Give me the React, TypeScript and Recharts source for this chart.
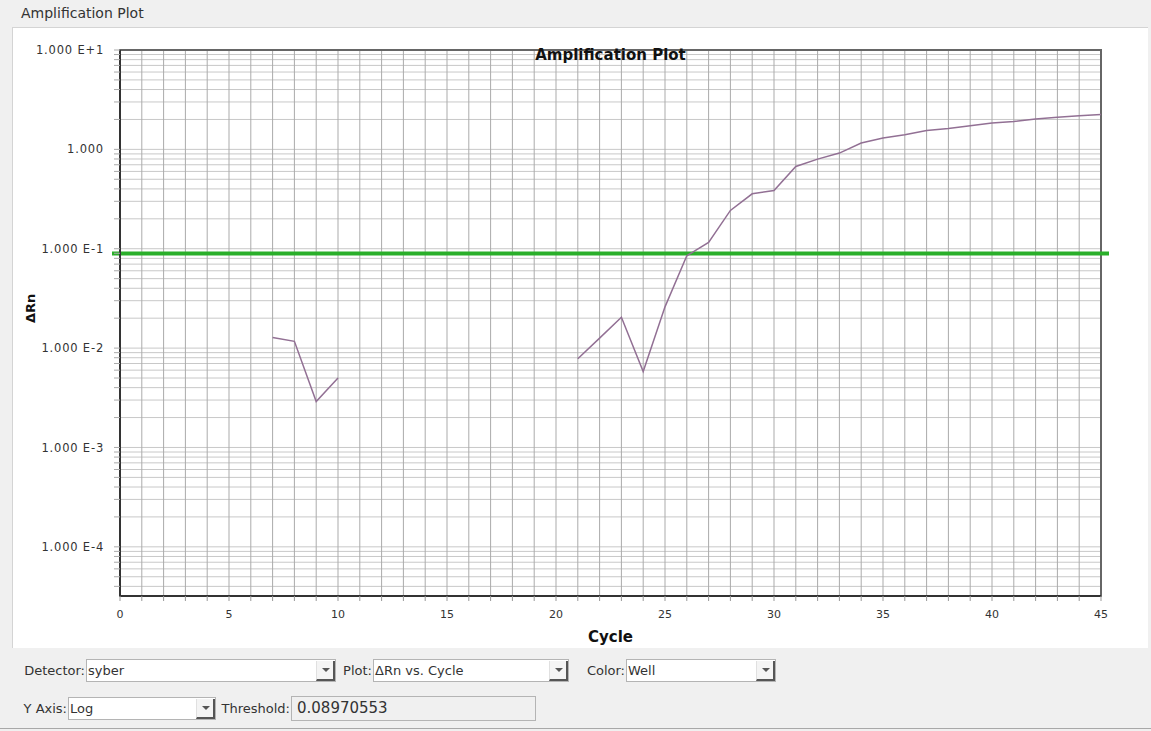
import React from "react";
import {
    LineChart,
    Line,
    XAxis,
    YAxis,
    CartesianGrid,
    ReferenceLine,
    ReferenceArea,
} from "recharts";

// cycle number and ΔRn (null = no point drawn)
const cycles = [
    0, 1, 2, 3, 4, 5, 6, 7, 8, 9, 10, 11, 12, 13, 14, 15, 16, 17, 18, 19, 20, 21, 22,
    23, 24, 25, 26, 27, 28, 29, 30, 31, 32, 33, 34, 35, 36, 37, 38, 39, 40, 41, 42, 43, 44, 45,
];
const deltaRn: (number | null)[] = [
    null, null, null, null, null, null, null,
    0.0128, 0.0117, 0.0029, 0.005,
    null, null, null, null, null, null, null, null, null, null,
    0.0078, 0.0126, 0.0204, 0.0058, 0.026, 0.085, 0.116, 0.243, 0.357, 0.385,
    0.673, 0.798, 0.918, 1.16, 1.3, 1.4, 1.55, 1.62, 1.73, 1.84, 1.91, 2.02, 2.1, 2.18, 2.24,
];
const threshold = 0.08970553;

const xTickLabels = [0, 5, 10, 15, 20, 25, 30, 35, 40, 45];
const yTickValues = [10, 1, 0.1, 0.01, 0.001, 0.0001];
const yTickLabels = ["1.000 E+1", "1.000", "1.000 E-1", "1.000 E-2", "1.000 E-3", "1.000 E-4"];
const yMin = 0.000032;
const yMax = 10;

const minorSteps = [1, 2, 3, 4, 5, 6, 7, 8, 9];
const decades = [0.00001, 0.0001, 0.001, 0.01, 0.1, 1];

const chartData = cycles.map((cycle, i) => ({ cycle, deltaRn: deltaRn[i] }));

// gridlines: every cycle, and 1..9 of every decade
const xGridTicks = cycles;
const yGridTicks = decades
    .flatMap((d) => minorSteps.map((s) => s * d))
    .concat([yMax])
    .filter((v) => v >= yMin && v <= yMax);

const fmtY = (v: number) => {
    const i = yTickValues.findIndex((t) => Math.abs(t - v) / t < 1e-6);
    return i >= 0 ? yTickLabels[i] : "";
};
const fmtX = (v: number) => (xTickLabels.includes(v) ? String(v) : "");

const font = "'DejaVu Sans', Verdana, sans-serif";

function Combo({ left, top, width, text }: { left: number; top: number; width: number; text: string }) {
    return (
        <div
            style={{
                position: "absolute",
                left,
                top,
                width,
                height: 23,
                boxSizing: "border-box",
                background: "#fff",
                border: "1px solid #b4b4b4",
                fontSize: 13,
                color: "#333",
                lineHeight: "21px",
                paddingLeft: 1,
            }}
        >
            {text}
            <div
                style={{
                    position: "absolute",
                    right: 0,
                    top: 1,
                    width: 19,
                    height: 20,
                    boxSizing: "border-box",
                    background: "#f4f4f4",
                    borderLeft: "1px solid #e0e0e0",
                    borderRight: "2px solid #555",
                    borderBottom: "2px solid #555",
                }}
            >
                <div
                    style={{
                        position: "absolute",
                        left: 5,
                        top: 7,
                        width: 0,
                        height: 0,
                        borderLeft: "4px solid transparent",
                        borderRight: "4px solid transparent",
                        borderTop: "4px solid #555",
                    }}
                />
            </div>
        </div>
    );
}

// label whose right edge sits against the field that follows it
function FieldLabel({ right, top, text }: { right: number; top: number; text: string }) {
    return (
        <div
            style={{
                position: "absolute",
                left: right - 120,
                width: 120,
                top,
                textAlign: "right",
                fontSize: 13,
                color: "#333",
                lineHeight: "23px",
                whiteSpace: "nowrap",
            }}
        >
            {text}
        </div>
    );
}

export default function App() {
    return (
        <div
            style={{
                position: "absolute",
                left: 0,
                top: 0,
                width: 1151,
                height: 731,
                background: "#f0f0f0",
                fontFamily: font,
                overflow: "hidden",
            }}
        >
            <div style={{ position: "absolute", left: 21, top: 5, fontSize: 14, color: "#333" }}>
                Amplification Plot
            </div>
            <div
                style={{
                    position: "absolute",
                    left: 12,
                    top: 27,
                    width: 1135,
                    height: 620,
                    background: "#fff",
                    borderTop: "1px solid #d4d4d4",
                    borderLeft: "1px solid #d4d4d4",
                }}
            />
            <div style={{ position: "absolute", left: 0, top: 0 }}>
                <LineChart
                    width={1151}
                    height={731}
                    data={chartData}
                    margin={{ top: 50, right: 50, bottom: 85, left: 10 }}
                >
                    <CartesianGrid vertical={false} stroke="#c8c8c8" strokeWidth={1} />
                    <CartesianGrid horizontal={false} stroke="#ababab" strokeWidth={1} />
                    <ReferenceArea
                        x1={0}
                        x2={45}
                        y1={yMin}
                        y2={yMax}
                        fill="none"
                        fillOpacity={0}
                        stroke="#666"
                        strokeWidth={2}
                        ifOverflow="visible"
                    />
                    <XAxis
                        dataKey="cycle"
                        type="number"
                        domain={[0, 45]}
                        ticks={xGridTicks}
                        interval={0}
                        tickFormatter={fmtX}
                        height={50}
                        tickSize={5}
                        tickMargin={9}
                        axisLine={{ stroke: "#333", strokeWidth: 2 }}
                        tickLine={{ stroke: "#999" }}
                        tick={{ fontSize: 11, fill: "#333", fontFamily: font }}
                        label={{
                            value: "Cycle",
                            position: "insideBottom",
                            offset: 4,
                            style: { fontSize: 15, fontWeight: "bold", fill: "#111", fontFamily: font },
                        }}
                    />
                    <YAxis
                        type="number"
                        scale="log"
                        domain={[yMin, yMax]}
                        allowDataOverflow
                        ticks={yGridTicks}
                        interval={0}
                        tickFormatter={fmtY}
                        width={110}
                        tickSize={6}
                        tickMargin={10}
                        axisLine={{ stroke: "#333", strokeWidth: 2 }}
                        tickLine={{ stroke: "#aaa" }}
                        tick={{ fontSize: 11.5, fill: "#333", fontFamily: font, letterSpacing: 0.8 }}
                        label={{
                            value: "ΔRn",
                            angle: -90,
                            position: "insideLeft",
                            offset: 20,
                            style: { fontSize: 13, fontWeight: "bold", fill: "#111", fontFamily: font },
                        }}
                    />
                    <ReferenceLine
                        y={threshold}
                        ifOverflow="visible"
                        shape={(p: any) => (
                            <line
                                x1={p.x1 - 8}
                                x2={p.x2 + 8}
                                y1={p.y1}
                                y2={p.y2}
                                stroke="#2aaf2a"
                                strokeWidth={4}
                            />
                        )}
                    />
                    <Line
                        type="linear"
                        dataKey="deltaRn"
                        stroke="#927094"
                        strokeWidth={1.5}
                        dot={false}
                        connectNulls={false}
                        isAnimationActive={false}
                    />
                </LineChart>
            </div>
            <div
                style={{
                    position: "absolute",
                    left: 120,
                    width: 981,
                    top: 46,
                    textAlign: "center",
                    fontSize: 15,
                    fontWeight: "bold",
                    color: "#111",
                }}
            >
                Amplification Plot
            </div>

            <div
                style={{
                    position: "absolute",
                    left: 0,
                    top: 728,
                    width: 1151,
                    height: 1,
                    background: "#a8a8a8",
                }}
            />
            <FieldLabel right={85} top={659} text="Detector:" />
            <Combo left={86} top={659} width={250} text="syber" />
            <FieldLabel right={372} top={659} text="Plot:" />
            <Combo left={373} top={659} width={196} text="ΔRn vs. Cycle" />
            <FieldLabel right={625} top={659} text="Color:" />
            <Combo left={626} top={659} width={150} text="Well" />

            <FieldLabel right={67} top={697} text="Y Axis:" />
            <Combo left={68} top={697} width={148} text="Log" />
            <FieldLabel right={290} top={697} text="Threshold:" />
            <div
                style={{
                    position: "absolute",
                    left: 291,
                    top: 696,
                    width: 245,
                    height: 25,
                    boxSizing: "border-box",
                    border: "1px solid #b4b4b4",
                    background: "#f0f0f0",
                    fontSize: 15,
                    color: "#333",
                    lineHeight: "23px",
                    paddingLeft: 5,
                }}
            >
                0.08970553
            </div>
        </div>
    );
}
